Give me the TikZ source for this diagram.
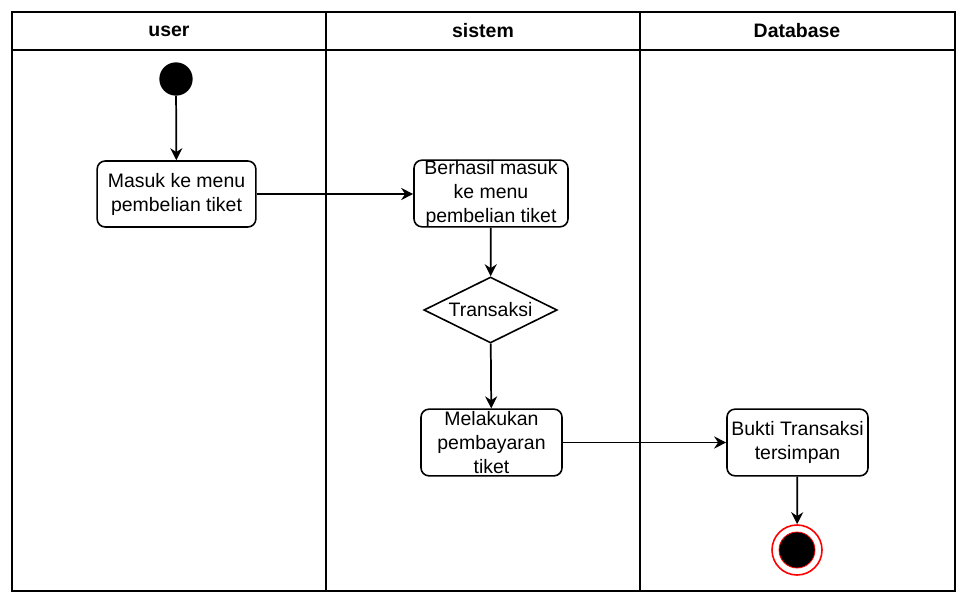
\documentclass[tikz,border=0pt]{standalone}
\usepackage{fontspec}
\setmainfont{Liberation Sans}
\usetikzlibrary{arrows.meta,shapes.geometric}
\begin{document}
\begin{tikzpicture}[x=0.75pt,y=-0.75pt,
  lane/.style={draw=black,line width=1.5pt},
  act/.style={draw,rounded corners=6pt,line width=1.2pt,fill=white,inner sep=0pt},
  txt/.style={align=center,font=\fontsize{14.6}{18}\selectfont,inner sep=0pt},
  hdr/.style={font=\bfseries\fontsize{14.6}{18}\selectfont,inner sep=0pt},
  flow/.style={-{Stealth[length=9pt,width=9pt]},line width=1.3pt}]
\useasboundingbox (0,0) rectangle (977,602);
% swimlanes
\draw[lane] (12,12) rectangle (955,591);
\draw[lane] (12,50) -- (955,50);
\draw[lane] (326,12) -- (326,591);
\draw[lane] (640,12) -- (640,591);
\node[hdr] (h1) at (169,31) {user};
\node[hdr] (h2) at (483,31) {sistem};
\node[hdr] (h3) at (797,31) {Database};
% nodes
\node[circle,fill=black,minimum size=25pt,inner sep=0pt] (s) at (176,79) {};
\node[act,minimum width=119pt,minimum height=49.5pt] (b1) at (176.5,194) {};
\node[txt] (b1t) at (b1) {Masuk ke menu\\pembelian tiket};
\node[act,minimum width=115.5pt,minimum height=50pt] (b2) at (491,193.5) {};
\node[txt] (b2t) at (b2) {Berhasil masuk\\ke menu\\pembelian tiket};
\node[diamond,draw,line width=1.2pt,minimum width=100pt,minimum height=49.5pt,inner sep=0pt] (d) at (490.5,310) {};
\node[txt] (dt) at (d) {Transaksi};
\node[act,minimum width=105.75pt,minimum height=50pt] (b3) at (491.5,442.5) {};
\node[txt] (b3t) at (b3) {Melakukan\\pembayaran\\tiket};
\node[act,minimum width=105.75pt,minimum height=50pt] (b4) at (797.5,442.5) {};
\node[txt] (b4t) at (b4) {Bukti Transaksi\\tersimpan};
\node[circle,draw=red,line width=1.2pt,fill=white,minimum size=37.5pt,inner sep=0pt] (f) at (797,550) {};
\node[circle,draw=red,line width=0.6pt,fill=black,minimum size=27pt,inner sep=0pt] (fi) at (f) {};
% flows
\draw[flow] (s) -- (b1);
\draw[flow] (b1.east) -- (b1.east -| b2.west);
\draw[flow] (b2) -- (d);
\draw[flow] (d) -- (b3);
\draw[flow] (b3.east) -- (b3.east -| b4.west);
\draw[flow] (b4) -- (f);
\end{tikzpicture}
\end{document}
